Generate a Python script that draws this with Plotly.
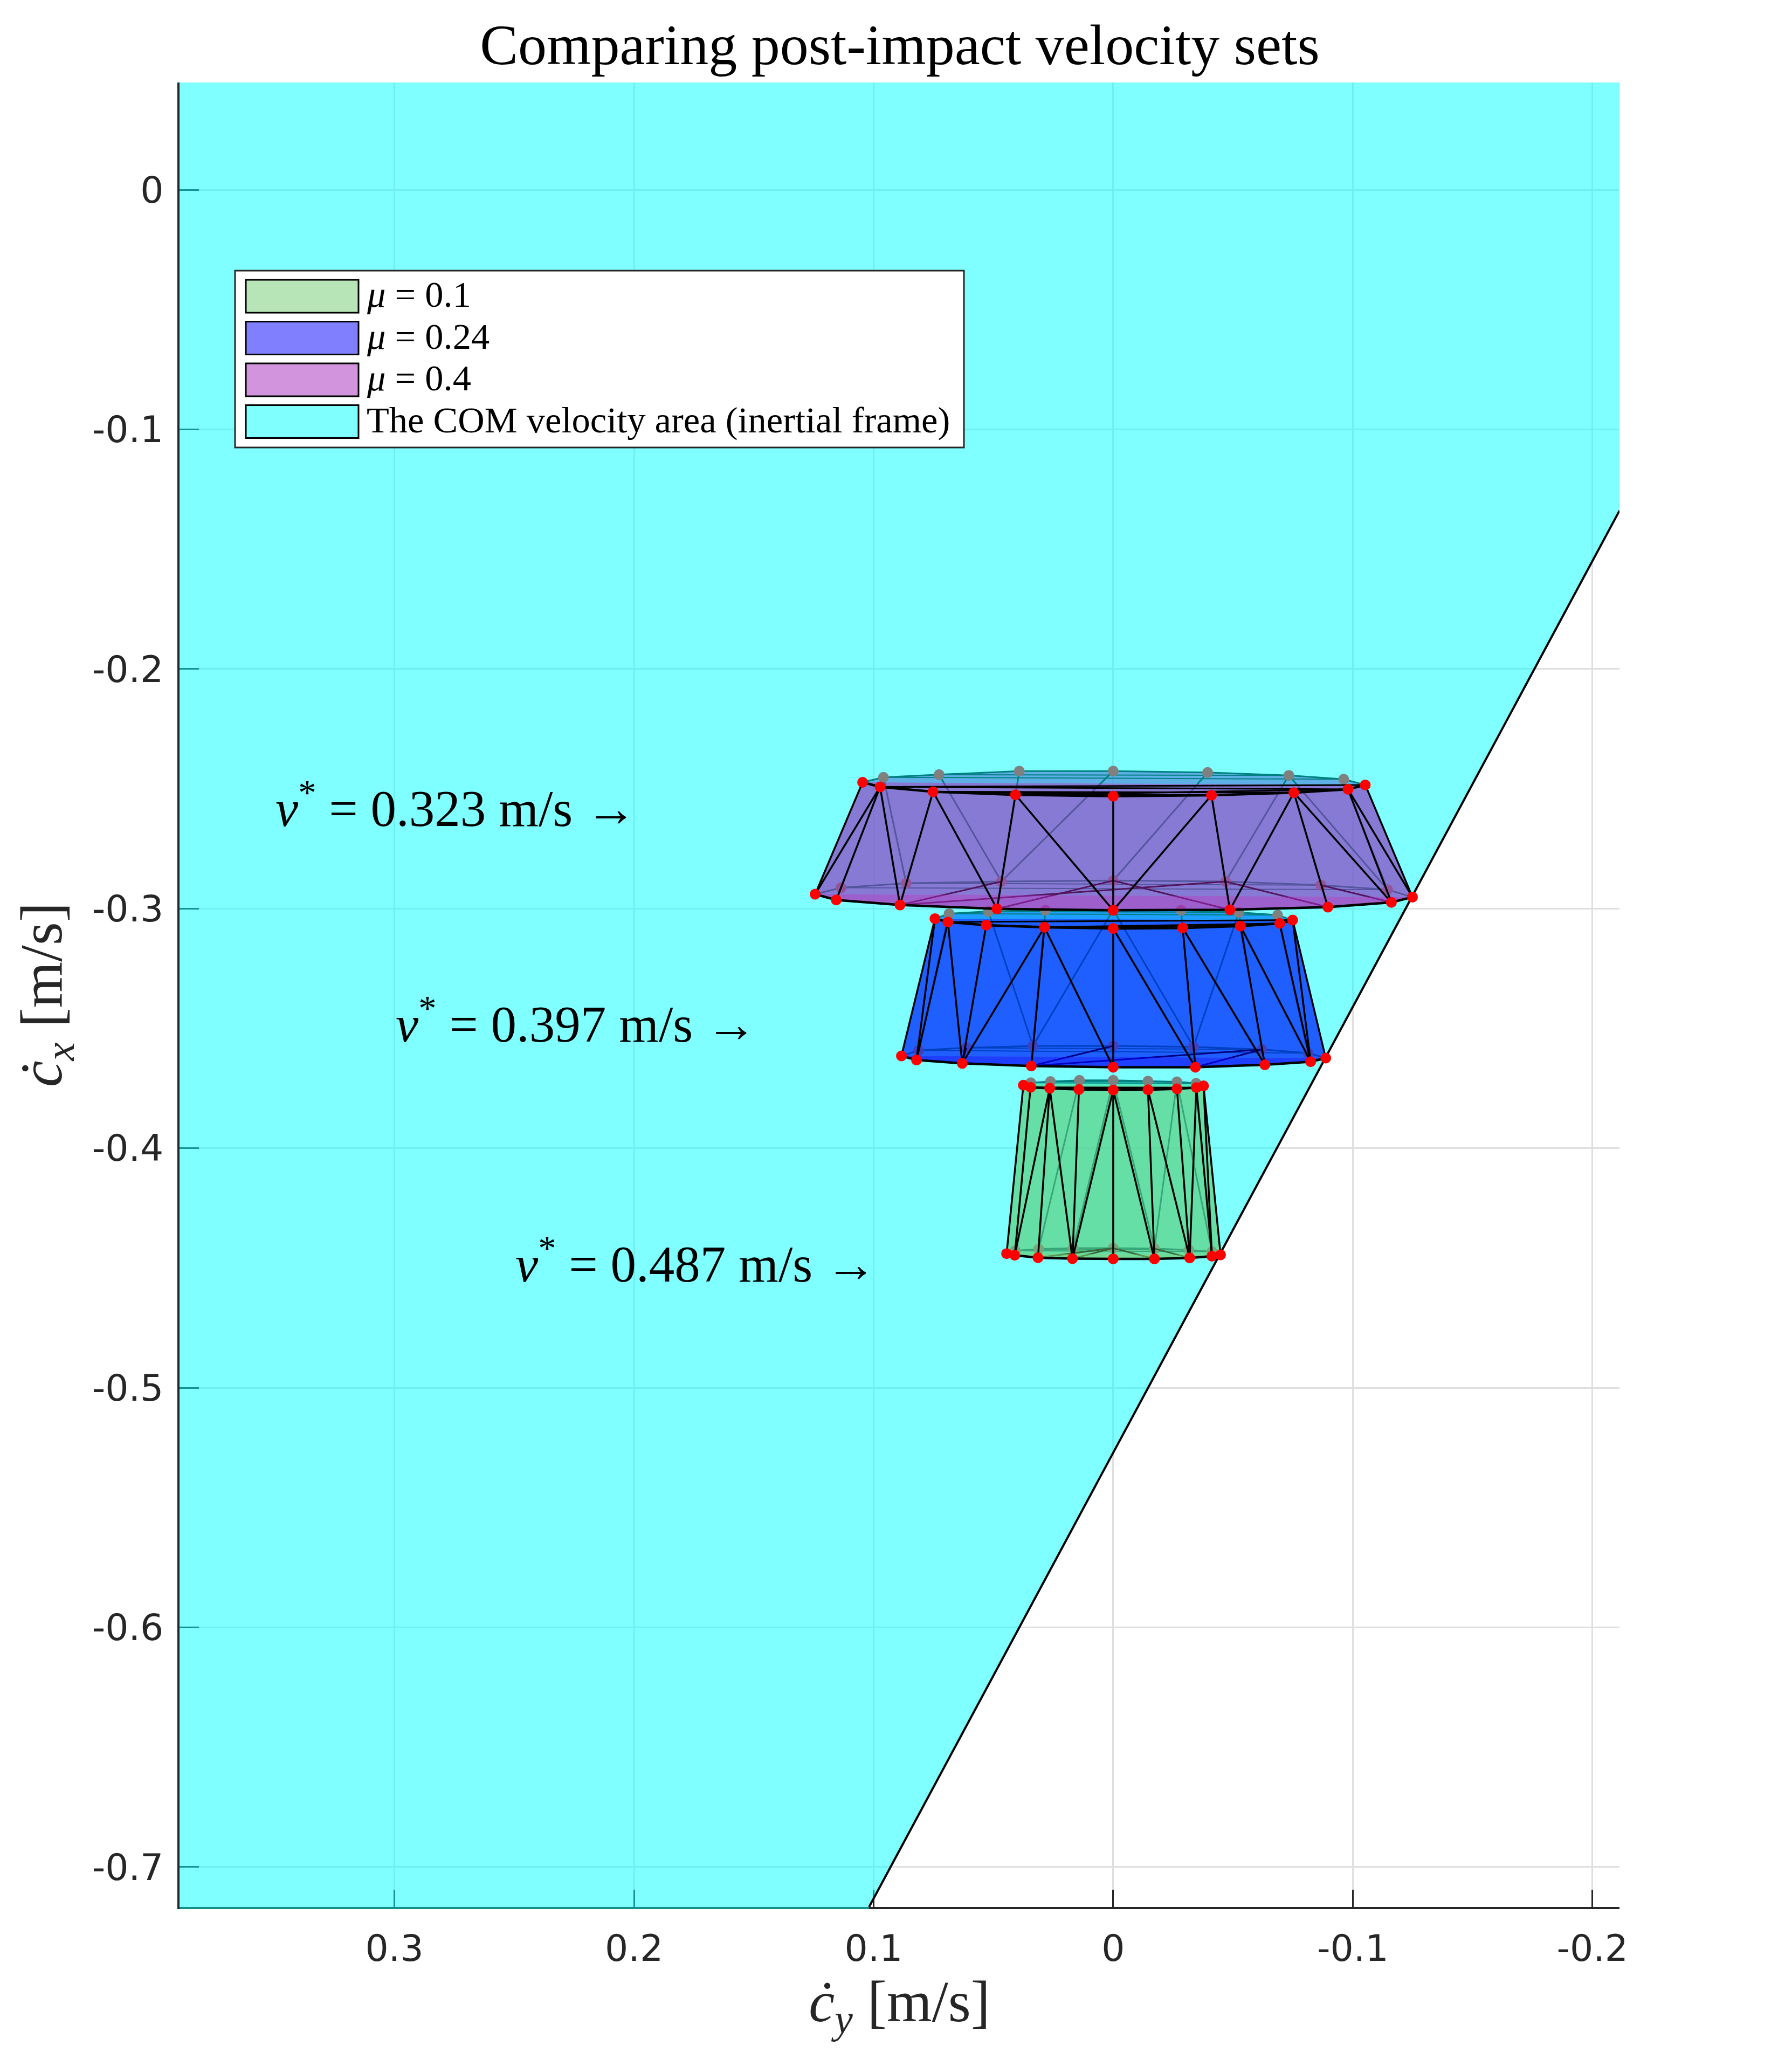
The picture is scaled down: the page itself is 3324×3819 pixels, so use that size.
import plotly.graph_objects as go

# axis setup
x_ticks = [0.3, 0.2, 0.1, 0, -0.1, -0.2]
x_labels = ["0.3", "0.2", "0.1", "0", "-0.1", "-0.2"]
y_ticks = [0, -0.1, -0.2, -0.3, -0.4, -0.5, -0.6, -0.7]
y_labels = ["0", "-0.1", "-0.2", "-0.3", "-0.4", "-0.5", "-0.6", "-0.7"]
x_range = [0.3897, -0.2113]
y_range = [-0.7167, 0.0448]

# COM velocity area boundary
boundary_x = [0.1019, -0.2113]
boundary_y = [-0.7167, -0.1339]

# mu = 0.4
purple_ft_x = [0.1046, 0.0973, 0.0752, 0.0408, 0, -0.0410, -0.0754, -0.0980, -0.1052]
purple_ft_y = [-0.2473, -0.2492, -0.2512, -0.2525, -0.2531, -0.2527, -0.2516, -0.2502, -0.2484]
purple_bt_x = [0.0959, 0.0727, 0.0392, 0, -0.0394, -0.0733, -0.0962]
purple_bt_y = [-0.2452, -0.2441, -0.2426, -0.2426, -0.2432, -0.2444, -0.2460]
purple_fb_x = [0.1244, 0.1156, 0.0890, 0.0485, 0, -0.0487, -0.0896, -0.1161, -0.1249]
purple_fb_y = [-0.2940, -0.2964, -0.2985, -0.3001, -0.3007, -0.3005, -0.2994, -0.2974, -0.2952]
purple_bb_x = [0.1136, 0.0864, 0.0467, 0, -0.0469, -0.0867, -0.1145]
purple_bb_y = [-0.2913, -0.2894, -0.2887, -0.2883, -0.2887, -0.2902, -0.2921]

# mu = 0.24
blue_ft_x = [0.0744, 0.0690, 0.0530, 0.0287, 0, -0.0290, -0.0531, -0.0695, -0.0749]
blue_ft_y = [-0.3042, -0.3056, -0.3069, -0.3078, -0.3083, -0.3081, -0.3073, -0.3062, -0.3048]
blue_bt_x = [0.0685, 0.0521, 0.0283, 0, -0.0283, -0.0524, -0.0686]
blue_bt_y = [-0.3021, -0.3012, -0.3007, -0.3005, -0.3007, -0.3016, -0.3027]
blue_fb_x = [0.0884, 0.0821, 0.0630, 0.0342, 0, -0.0343, -0.0633, -0.0824, -0.0887]
blue_fb_y = [-0.3615, -0.3632, -0.3646, -0.3657, -0.3662, -0.3662, -0.3652, -0.3639, -0.3624]
blue_bb_x = [0.0812, 0.0613, 0.0335, 0, -0.0335, -0.0620, -0.0814]
blue_bb_y = [-0.3592, -0.3581, -0.3573, -0.3573, -0.3577, -0.3588, -0.3603]

# mu = 0.1
green_ft_x = [0.0375, 0.0345, 0.0265, 0.0143, 0, -0.0145, -0.0266, -0.0347, -0.0377]
green_ft_y = [-0.3737, -0.3746, -0.3750, -0.3755, -0.3757, -0.3756, -0.3752, -0.3747, -0.3740]
green_bt_x = [0.0344, 0.0262, 0.0141, 0, -0.0145, -0.0266, -0.0346]
green_bt_y = [-0.3727, -0.3722, -0.3717, -0.3717, -0.3720, -0.3723, -0.3729]
green_fb_x = [0.0445, 0.0411, 0.0314, 0.0170, 0, -0.0172, -0.0319, -0.0412, -0.0448]
green_fb_y = [-0.4440, -0.4447, -0.4457, -0.4461, -0.4462, -0.4462, -0.4458, -0.4451, -0.4445]
green_bb_x = [0.0409, 0.0311, 0.0167, 0, -0.0172, -0.0316, -0.0412]
green_bb_y = [-0.4428, -0.4421, -0.4417, -0.4417, -0.4419, -0.4425, -0.4432]

# mesh edges, as index pairs into the rings above
purple_front_edges = [(0, 0), (1, 0), (1, 1), (1, 2), (2, 2), (2, 3), (3, 3), (3, 4), (4, 4),
                      (5, 4), (5, 5), (6, 5), (6, 6), (6, 7), (7, 7), (7, 8), (8, 8)]
blue_front_edges = [(0, 0), (0, 1), (1, 1), (1, 2), (2, 2), (3, 2), (3, 3), (3, 4), (4, 4), (4, 5),
                    (5, 5), (5, 6), (6, 6), (6, 7), (7, 7), (8, 7), (8, 8)]
green_front_edges = [(0, 0), (1, 1), (2, 1), (2, 2), (2, 3), (3, 3), (4, 3), (4, 4), (4, 5),
                     (5, 5), (5, 6), (6, 6), (7, 6), (7, 7), (8, 7), (8, 8)]
purple_back_edges = [(0, 1), (1, 2), (2, 2), (3, 2), (4, 3), (5, 4), (5, 6), (6, 6)]
blue_back_edges = [(0, 0), (1, 2), (2, 2), (3, 2), (3, 4), (4, 4), (5, 4), (5, 5), (6, 6)]
green_back_edges = [(0, 0), (2, 1), (3, 2), (3, 4), (5, 4), (5, 6), (6, 6)]
purple_top_chords = [(1, 8), (1, 7), (2, 6), (2, 5), (3, 5), (3, 7)]
blue_top_chords = [(1, 8), (2, 4), (3, 6), (3, 7), (4, 7), (5, 7)]
green_top_chords = [(1, 7), (2, 4), (2, 6), (4, 6), (3, 5)]
purple_floor_edges = [(2, 2), (2, 4), (3, 3), (5, 3), (6, 4), (7, 5)]
blue_floor_edges = [(2, 1), (3, 3), (3, 5), (5, 5), (6, 5)]
green_floor_edges = [(2, 3), (3, 3), (3, 2), (5, 3), (6, 4), (6, 5)]
back_chords = [(0, 6), (1, 5)]

polytopes = [
    dict(color="rgba(111,203,111,0.5)",
         ft=(green_ft_x, green_ft_y), bt=(green_bt_x, green_bt_y),
         fb=(green_fb_x, green_fb_y), bb=(green_bb_x, green_bb_y),
         front=green_front_edges, back=green_back_edges,
         top=green_top_chords, floor=green_floor_edges),
    dict(color="rgba(0,0,255,0.5)",
         ft=(blue_ft_x, blue_ft_y), bt=(blue_bt_x, blue_bt_y),
         fb=(blue_fb_x, blue_fb_y), bb=(blue_bb_x, blue_bb_y),
         front=blue_front_edges, back=blue_back_edges,
         top=blue_top_chords, floor=blue_floor_edges),
    dict(color="rgba(165,41,185,0.5)",
         ft=(purple_ft_x, purple_ft_y), bt=(purple_bt_x, purple_bt_y),
         fb=(purple_fb_x, purple_fb_y), bb=(purple_bb_x, purple_bb_y),
         front=purple_front_edges, back=purple_back_edges,
         top=purple_top_chords, floor=purple_floor_edges),
]

legend_names = ["<i>μ</i> = 0.1", "<i>μ</i> = 0.24", "<i>μ</i> = 0.4",
                "The COM velocity area (inertial frame)"]
legend_colors = ["#B7E5B7", "#8080FF", "#D294DC", "#80FFFF"]

speed_labels = ["<i>v</i><sup>*</sup> = 0.323 m/s →",
                "<i>v</i><sup>*</sup> = 0.397 m/s →",
                "<i>v</i><sup>*</sup> = 0.487 m/s →"]
speed_label_x = [0.35, 0.30, 0.25]
speed_label_y = [-0.26, -0.35, -0.45]

SERIF = "Liberation Serif"
W, H = 3324, 3819
LEFT, RIGHT, TOP, BOTTOM = 333, 3004, 153, 3537


def fx(px):
    return (px - LEFT) / (RIGHT - LEFT)


def fy(py):
    return (BOTTOM - py) / (BOTTOM - TOP)


def face(xs, ys, color):
    return go.Scatter(x=xs, y=ys, mode="lines", fill="toself", fillcolor=color,
                      line=dict(width=0), hoverinfo="skip", showlegend=False)


def segments(a, b, pairs, width):
    xs, ys = [], []
    for i, j in pairs:
        xs += [a[0][i], b[0][j], None]
        ys += [a[1][i], b[1][j], None]
    return go.Scatter(x=xs, y=ys, mode="lines", line=dict(color="black", width=width),
                      hoverinfo="skip", showlegend=False)


def path(xs, ys, width):
    return go.Scatter(x=xs, y=ys, mode="lines", line=dict(color="black", width=width),
                      hoverinfo="skip", showlegend=False)


def dots(xs, ys):
    return go.Scatter(x=xs, y=ys, mode="markers", marker=dict(color="red", size=20, line=dict(width=0)),
                      hoverinfo="skip", showlegend=False)


def chain(ring, ends):
    # a back ring joined to the two outermost points of the front ring
    return ([ends[0][0]] + ring[0] + [ends[0][-1]], [ends[1][0]] + ring[1] + [ends[1][-1]])


fig = go.Figure()

# everything behind the velocity plane
for p in polytopes:
    top = chain(p["bt"], p["ft"])
    bot = chain(p["bb"], p["fb"])
    fig.add_trace(face(top[0] + bot[0][::-1], top[1] + bot[1][::-1], p["color"]))
    fig.add_trace(face(top[0], top[1], p["color"]))
    fig.add_trace(face(bot[0], bot[1], p["color"]))
    fig.add_trace(segments(p["bt"], p["bb"], p["back"], 3))
    fig.add_trace(segments(p["bt"], p["bt"], back_chords, 2))
    fig.add_trace(segments(p["bb"], p["bb"], back_chords, 2))
    fig.add_trace(path(top[0], top[1], 3))
    fig.add_trace(path(bot[0], bot[1], 3))
    fig.add_trace(dots(p["bt"][0], p["bt"][1]))
    fig.add_trace(dots(p["bb"][0], p["bb"][1]))

# the velocity plane itself
fig.add_trace(face([boundary_x[0], boundary_x[1], x_range[1], x_range[0], x_range[0]],
                   [boundary_y[0], boundary_y[1], y_range[1], y_range[1], y_range[0]],
                   "rgba(0,255,255,0.5)"))
fig.add_trace(path(boundary_x, boundary_y, 4))

# everything in front of it
for p in polytopes:
    fig.add_trace(segments(p["fb"], p["bb"], p["floor"], 3))
    fig.add_trace(face(p["fb"][0], p["fb"][1], p["color"]))
    fig.add_trace(face(p["ft"][0] + p["fb"][0][::-1], p["ft"][1] + p["fb"][1][::-1], p["color"]))
    fig.add_trace(face(p["ft"][0], p["ft"][1], p["color"]))
    fig.add_trace(segments(p["ft"], p["ft"], p["top"], 3))
    fig.add_trace(segments(p["ft"], p["fb"], p["front"], 3.5))
    fig.add_trace(path(p["ft"][0], p["ft"][1], 4.5))
    fig.add_trace(path(p["fb"][0], p["fb"][1], 4.5))
    fig.add_trace(dots(p["ft"][0], p["ft"][1]))
    fig.add_trace(dots(p["fb"][0], p["fb"][1]))

shapes = [
    # the stretch of the bottom spine that the plane tints
    dict(type="line", xref="x", yref="paper", x0=x_range[0], x1=boundary_x[0],
         y0=fy(BOTTOM + 2), y1=fy(BOTTOM + 2), line=dict(color="#138F8F", width=4)),
    # legend box
    dict(type="rect", xref="paper", yref="paper", x0=fx(436), x1=fx(1788), y0=fy(830), y1=fy(502),
         fillcolor="white", line=dict(color="#262626", width=3)),
]
annotations = []
for i, name in enumerate(legend_names):
    top_px = 519 + i * 77.5
    shapes.append(dict(type="rect", xref="paper", yref="paper", x0=fx(456), x1=fx(665),
                       y0=fy(top_px + 61), y1=fy(top_px), fillcolor=legend_colors[i],
                       line=dict(color="black", width=3)))
    annotations.append(dict(xref="paper", yref="paper", x=fx(678), y=fy(top_px + 27), text=name,
                            showarrow=False, xanchor="left", yanchor="middle",
                            font=dict(family=SERIF, size=68.5, color="black")))

for label, lx, ly in zip(speed_labels, speed_label_x, speed_label_y):
    annotations.append(dict(x=lx, y=ly, text=label, showarrow=False, xanchor="left", yanchor="middle",
                            xref="x", yref="y", yshift=14,
                            font=dict(family=SERIF, size=95, color="black")))

axis_style = dict(showgrid=True, gridcolor="#DFDFDF", gridwidth=3, zeroline=False, showline=True,
                  linecolor="#262626", linewidth=4, ticks="inside", tickcolor="#262626", tickwidth=3,
                  layer="below traces",
                  tickfont=dict(family="DejaVu Sans", size=68, color="#262626"))

fig.update_layout(
    width=W, height=H, autosize=False, showlegend=False,
    margin=dict(l=LEFT, r=W - RIGHT, t=TOP, b=H - BOTTOM),
    paper_bgcolor="white", plot_bgcolor="white",
    title=dict(text="Comparing post-impact velocity sets", x=1669 / W,
               xanchor="center", y=1 - 82 / H, yanchor="middle",
               font=dict(family=SERIF, size=106, color="black")),
    xaxis=dict(range=x_range, tickvals=x_ticks, ticktext=x_labels, ticklen=32, ticklabelstandoff=14,
               title=dict(text="<i>ċ</i><sub><i>y</i></sub> [m/s]", standoff=16,
                          font=dict(family=SERIF, size=108, color="#262626")),
               **axis_style),
    yaxis=dict(range=y_range, tickvals=y_ticks, ticktext=y_labels, ticklen=36, ticklabelstandoff=12,
               title=dict(text="<i>ċ</i><sub><i>x</i></sub> [m/s]", standoff=20,
                          font=dict(family=SERIF, size=110, color="#262626")),
               **axis_style),
    shapes=shapes, annotations=annotations,
)

# the page's default body margin would push the plot off by 8 px
fig.write_html("out.html", config={"displayModeBar": False},
               post_script="document.body.style.margin='0';")
